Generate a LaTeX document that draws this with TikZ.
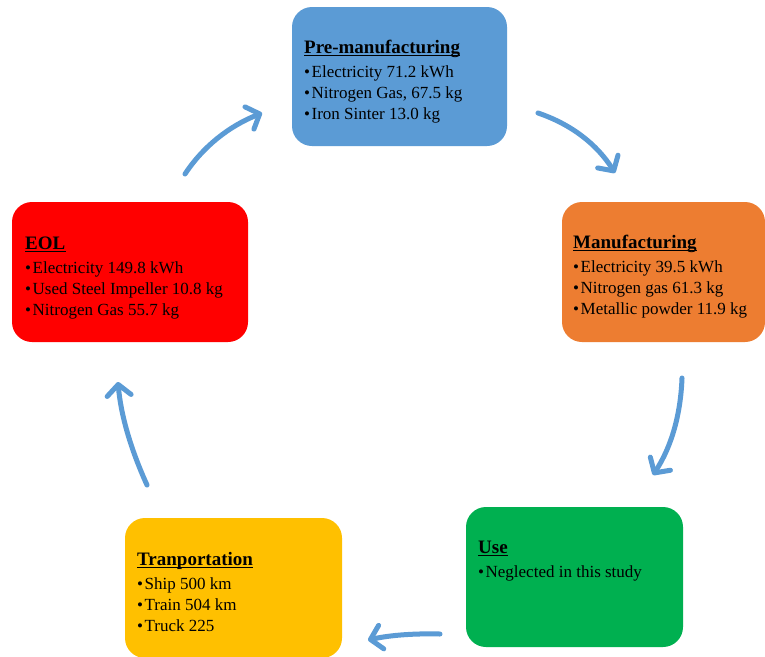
\documentclass[tikz,border=0pt]{standalone}
\usepackage{fontspec}
\setmainfont{Liberation Serif}
\usetikzlibrary{arrows.meta}

\definecolor{preblue}{HTML}{5B9BD5}
\definecolor{mfgorange}{HTML}{ED7D31}
\definecolor{eolred}{HTML}{FF0000}
\definecolor{usegreen}{HTML}{00B050}
\definecolor{trangold}{HTML}{FFC000}
\definecolor{cyclearrow}{HTML}{5B9BD5}

\tikzset{
  stagebox/.style={draw=none, rounded corners=20pt, inner sep=0pt},
  titletext/.style={anchor=base west, inner sep=0pt, font=\fontsize{19}{22}\selectfont\bfseries},
  itemtext/.style={anchor=base west, inner sep=0pt, font=\fontsize{17}{21}\selectfont},
  cycle/.style={draw=cyclearrow, line width=5pt, line cap=round,
    -{Straight Barb[length=11pt,width=24pt,round]}},
}

% #1 name, #2 left x, #3 title baseline y, #4 title, #5 list of bullet items
\newcommand\stagetext[5]{%
  \node[titletext] (#1-t) at (#2,#3) {#4};
  \draw[line width=1.3pt] ([yshift=-2.6pt]#1-t.base west) -- ([yshift=-2.6pt]#1-t.base east);
  \foreach \ln [count=\k] in {#5} {
    \node[itemtext] (#1-\k) at (#2,{#3+3+21*\k}) {•\hspace{1.5pt}\ln};
  }%
}

\begin{document}
\begin{tikzpicture}[x=1pt,y=-1pt]
  \useasboundingbox (0,0) rectangle (765,656);
  \fill[white] (0,0) rectangle (765,656);
  \clip (0,0) rectangle (765,656);

  % stage boxes
  \node[stagebox, fill=preblue, minimum width=215pt, minimum height=139pt] (pre) at (399.5,76.5) {};
  \node[stagebox, fill=mfgorange, minimum width=203pt, minimum height=140pt] (mfg) at (663.5,272) {};
  \node[stagebox, fill=eolred, minimum width=236pt, minimum height=140pt] (eol) at (130,272) {};
  \node[stagebox, fill=usegreen, minimum width=217pt, minimum height=140pt] (use) at (574.5,577) {};
  \node[stagebox, fill=trangold, minimum width=217pt, minimum height=140pt] (tra) at (233.5,588) {};

  % stage contents
  \stagetext{pre}{304}{53}{Pre-manufacturing}{Electricity 71.2 kWh, {Nitrogen Gas, 67.5 kg}, Iron Sinter 13.0 kg}
  \stagetext{mfg}{573}{248}{Manufacturing}{Electricity 39.5 kWh, Nitrogen gas 61.3 kg, Metallic powder 11.9 kg}
  \stagetext{eol}{25}{249}{EOL}{Electricity 149.8 kWh, Used Steel Impeller 10.8 kg, Nitrogen Gas 55.7 kg}
  \stagetext{use}{478}{553}{Use}{Neglected in this study}
  \stagetext{tra}{137}{565}{Tranportation}{Ship 500 km, Train 504 km, Truck 225}

  % arrow end points
  \coordinate (a1s) at (185,174); \coordinate (a1e) at (262,113);
  \coordinate (a2s) at (538,113); \coordinate (a2e) at (615,173);
  \coordinate (a3s) at (682,378); \coordinate (a3e) at (653,475);
  \coordinate (a4s) at (440,634); \coordinate (a4e) at (368,640);
  \coordinate (a5s) at (147,485); \coordinate (a5e) at (118,382);

  % life-cycle arrows
  \draw[cycle] (a1s) .. controls (203,146.7) and (228.7,126.3) .. (a1e);
  \draw[cycle] (a2s) .. controls (571.3,124.3) and (597,144.3) .. (a2e);
  \draw[cycle] (a3s) .. controls (680.7,414) and (671.7,446.3) .. (a3e);
  \draw[cycle] (a4s) .. controls (413.3,633.3) and (389.3,635.3) .. (a4e);
  \draw[cycle] (a5s) .. controls (130.3,448.3) and (120.7,414) .. (a5e);
\end{tikzpicture}
\end{document}
